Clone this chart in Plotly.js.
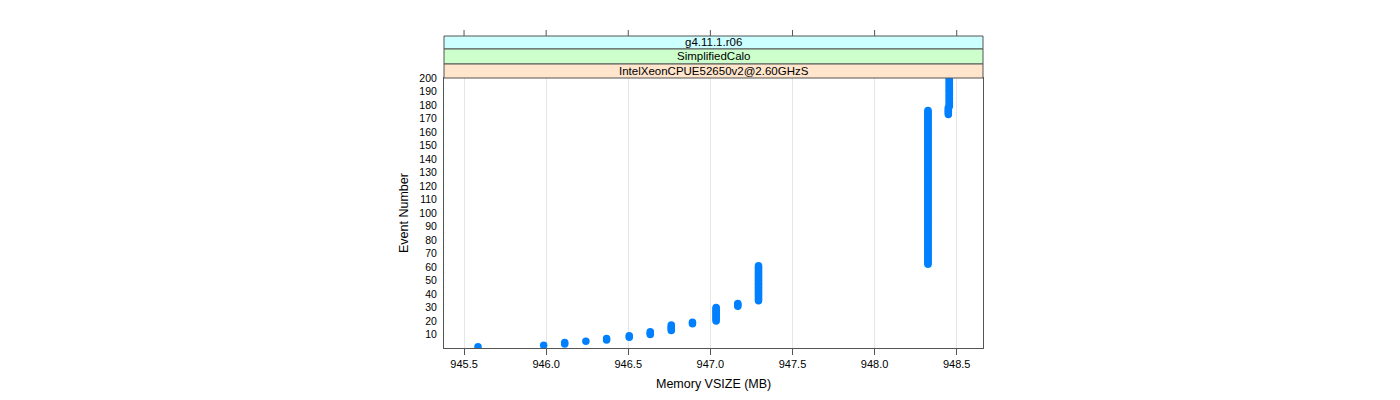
<!DOCTYPE html>
<html>
<head>
<meta charset="utf-8">
<script src="https://cdn.plot.ly/plotly-3.0.1.min.js"></script>
<style>html,body{margin:0;padding:0;background:#fff;}#chart{width:1400px;height:400px;}</style>
</head>
<body>
<div id="chart"></div>
<script>
// Memory VSIZE (MB) levels and the event numbers recorded at each level
const memoryLevels = [945.585, 945.985, 946.113, 946.242, 946.368, 946.506, 946.634, 946.762, 946.891, 947.035, 947.167, 947.293, 948.325, 948.449, 948.455];
const eventsAtLevel = [
  [1],
  [2],
  [3, 4],
  [5],
  [6, 7],
  [8, 9],
  [10, 11, 12],
  [13, 14, 15, 16, 17],
  [18, 19],
  [20, 21, 22, 23, 24, 25, 26, 27, 28, 29, 30],
  [31, 32, 33],
  [35, 36, 37, 38, 39, 40, 41, 42, 43, 44, 45, 46, 47, 48, 49, 50, 51, 52, 53, 54, 55, 56, 57, 58, 59, 60, 61],
  [62, 63, 64, 65, 66, 67, 68, 69, 70, 71, 72, 73, 74, 75, 76, 77, 78, 79, 80, 81, 82, 83, 84, 85, 86, 87, 88, 89, 90, 91, 92, 93, 94, 95, 96, 97, 98, 99, 100, 101, 102, 103, 104, 105, 106, 107, 108, 109, 110, 111, 112, 113, 114, 115, 116, 117, 118, 119, 120, 121, 122, 123, 124, 125, 126, 127, 128, 129, 130, 131, 132, 133, 134, 135, 136, 137, 138, 139, 140, 141, 142, 143, 144, 145, 146, 147, 148, 149, 150, 151, 152, 153, 154, 155, 156, 157, 158, 159, 160, 161, 162, 163, 164, 165, 166, 167, 168, 169, 170, 171, 172, 173, 174, 175, 176],
  [173, 174, 175, 176, 177, 178],
  [179, 180, 181, 182, 183, 184, 185, 186, 187, 188, 189, 190, 191, 192, 193, 194, 195, 196, 197, 198, 199, 200]
];
const stripLabels = ["g4.11.1.r06", "SimplifiedCalo", "IntelXeonCPUE52650v2@2.60GHzS"];
const xTickVals = [945.5, 946.0, 946.5, 947.0, 947.5, 948.0, 948.5];
const xTickText = ["945.5", "946.0", "946.5", "947.0", "947.5", "948.0", "948.5"];
const yTickVals = [10, 20, 30, 40, 50, 60, 70, 80, 90, 100, 110, 120, 130, 140, 150, 160, 170, 180, 190, 200];

const xs = [], ys = [];
memoryLevels.forEach((m, i) => {
  eventsAtLevel[i].forEach(ev => { xs.push(m); ys.push(ev); });
});

const FONT = 'Liberation Sans, Arial, Helvetica, sans-serif';
const frameCol = '#555555';
const plotH = 270; // px height of panel
function py(px) { return 1 + px / plotH; } // px above panel top -> paper y

const stripTops = [42, 29, 14]; // px above panel top (top edges)
const stripBots = [29, 14, 0];
const stripCols = ['#ccffff', '#ccffcc', '#ffe5cc'];

const shapes = [];
const annotations = [];
for (let i = 0; i < 3; i++) {
  shapes.push({type: 'rect', xref: 'paper', yref: 'paper', x0: 0, x1: 1,
    y0: py(stripBots[i]), y1: py(stripTops[i]),
    fillcolor: stripCols[i], line: {color: frameCol, width: 1}, layer: 'above'});
  annotations.push({xref: 'paper', yref: 'paper', x: 0.5, y: py((stripTops[i] + stripBots[i]) / 2),
    text: stripLabels[i], showarrow: false, xanchor: 'center', yanchor: 'middle',
    font: {family: FONT, size: 11.5, color: '#000'}});
}
// top ticks above strips
xTickVals.forEach(v => {
  shapes.push({type: 'line', xref: 'x', yref: 'paper', x0: v, x1: v,
    y0: py(stripTops[0]), y1: py(stripTops[0] + 6), line: {color: frameCol, width: 1}});
});
annotations.push({xref: 'paper', yref: 'paper', x: 0.5, y: -36 / plotH, text: 'Memory VSIZE (MB)',
  showarrow: false, xanchor: 'center', yanchor: 'middle', font: {family: FONT, size: 12.5, color: '#000'}});
annotations.push({xref: 'paper', yref: 'paper', x: -40 / 539, y: 0.5, text: 'Event Number', textangle: -90,
  showarrow: false, xanchor: 'center', yanchor: 'middle', font: {family: FONT, size: 12.5, color: '#000'}});

const trace = {
  type: 'scatter', mode: 'markers', x: xs, y: ys,
  marker: {color: '#0080ff', size: 7.5, line: {width: 0}},
  cliponaxis: true, hoverinfo: 'x+y'
};

const layout = {
  width: 1400, height: 400,
  margin: {l: 444, r: 417, t: 78, b: 52, pad: 0},
  paper_bgcolor: '#ffffff', plot_bgcolor: '#ffffff',
  showlegend: false,
  font: {family: FONT, size: 11, color: '#000'},
  xaxis: {
    range: [945.378, 948.66], tickmode: 'array', tickvals: xTickVals, ticktext: xTickText,
    ticks: 'outside', ticklen: 6, tickcolor: frameCol, tickwidth: 1,
    showline: true, linecolor: frameCol, linewidth: 1, mirror: true,
    showgrid: true, gridcolor: '#e6e6e6', gridwidth: 1, zeroline: false,
    tickfont: {family: FONT, size: 11, color: '#000'}, automargin: false
  },
  yaxis: {
    range: [0, 200], tickmode: 'array', tickvals: yTickVals,
    ticks: '', showline: true, linecolor: frameCol, linewidth: 1, mirror: true,
    showgrid: false, zeroline: false, ticklabelstandoff: 4,
    tickfont: {family: FONT, size: 10.5, color: '#000'}, automargin: false
  },
  shapes: shapes,
  annotations: annotations
};

Plotly.newPlot('chart', [trace], layout, {displayModeBar: false, staticPlot: true});
</script>
</body>
</html>
